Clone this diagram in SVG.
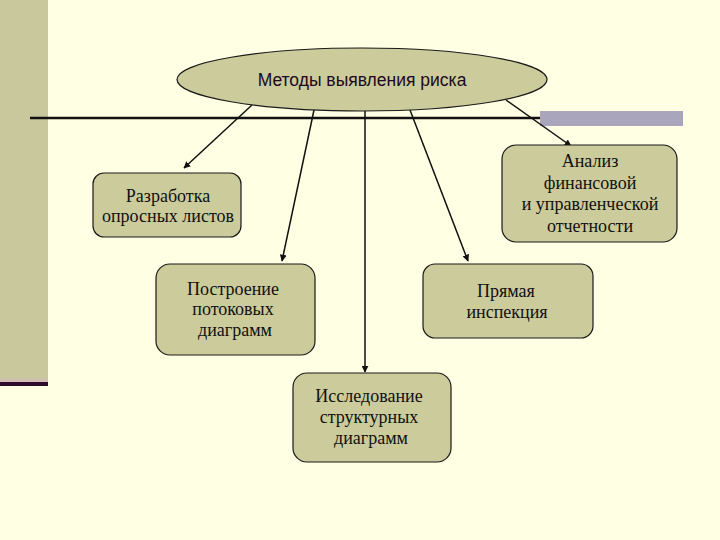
<svg xmlns="http://www.w3.org/2000/svg" width="720" height="540" viewBox="0 0 720 540">
<defs>
<style>
.box{fill:#cbcb9b;stroke:#1a1a1a;stroke-width:1.2}
.t{font-family:"Liberation Serif","Times New Roman",serif;font-size:18px;fill:#111;text-anchor:middle}
.h{font-family:"Liberation Sans",Arial,sans-serif;font-size:17.5px;fill:#200820;text-anchor:middle}
.c{stroke:#111;stroke-width:1.5;fill:none;marker-end:url(#ah)}
</style>
<marker id="ah" viewBox="0 0 10 10" refX="9" refY="5" markerWidth="7" markerHeight="7" orient="auto" markerUnits="userSpaceOnUse">
<path d="M0,0 L10,5 L0,10 z" fill="#111"/>
</marker>
</defs>
<rect width="720" height="540" fill="#ffffe3"/>
<rect x="0" y="0" width="48" height="378" fill="#c8c89c"/>
<rect x="0" y="378" width="48" height="4" fill="#cfc0b0"/>
<rect x="0" y="382" width="48" height="4" fill="#2e0a2e"/>
<rect x="540" y="111" width="143" height="15" fill="#a9a5bd"/>
<line x1="30" y1="118" x2="540" y2="118" stroke="#111" stroke-width="2.5"/>
<g id="connectors">
<line class="c" x1="252" y1="105" x2="184" y2="168"/>
<line class="c" x1="314" y1="110" x2="282" y2="261"/>
<line class="c" x1="365" y1="111" x2="365" y2="372"/>
<line class="c" x1="410" y1="110" x2="468" y2="261"/>
<line class="c" x1="506" y1="100" x2="571" y2="146"/>
</g>
<g id="root">
<ellipse cx="362" cy="79.5" rx="185" ry="31.5" fill="#cbcb9b" stroke="#1a1a1a" stroke-width="1.2"/>
<text class="h" x="362" y="86">Методы выявления риска</text>
</g>
<g id="n1">
<rect class="box" x="93" y="173" width="148" height="64" rx="11"/>
<text class="t" x="168" y="202">Разработка</text>
<text class="t" x="168" y="222">опросных листов</text>
</g>
<g id="n2">
<rect class="box" x="156" y="264" width="159" height="91" rx="14"/>
<text class="t" x="233" y="295">Построение</text>
<text class="t" x="233" y="315">потоковых</text>
<text class="t" x="235" y="336">диаграмм</text>
</g>
<g id="n3">
<rect class="box" x="423" y="264" width="170" height="74" rx="12"/>
<text class="t" x="506" y="297">Прямая</text>
<text class="t" x="507" y="318">инспекция</text>
</g>
<g id="n4">
<rect class="box" x="293" y="373" width="158" height="89" rx="14"/>
<text class="t" x="369" y="402">Исследование</text>
<text class="t" x="369" y="423">структурных</text>
<text class="t" x="371" y="444">диаграмм</text>
</g>
<g id="n5">
<rect class="box" x="502" y="145" width="175" height="97" rx="14"/>
<text class="t" x="590" y="167">Анализ</text>
<text class="t" x="590" y="189">финансовой</text>
<text class="t" x="590" y="210">и управленческой</text>
<text class="t" x="590" y="232">отчетности</text>
</g>
</svg>
